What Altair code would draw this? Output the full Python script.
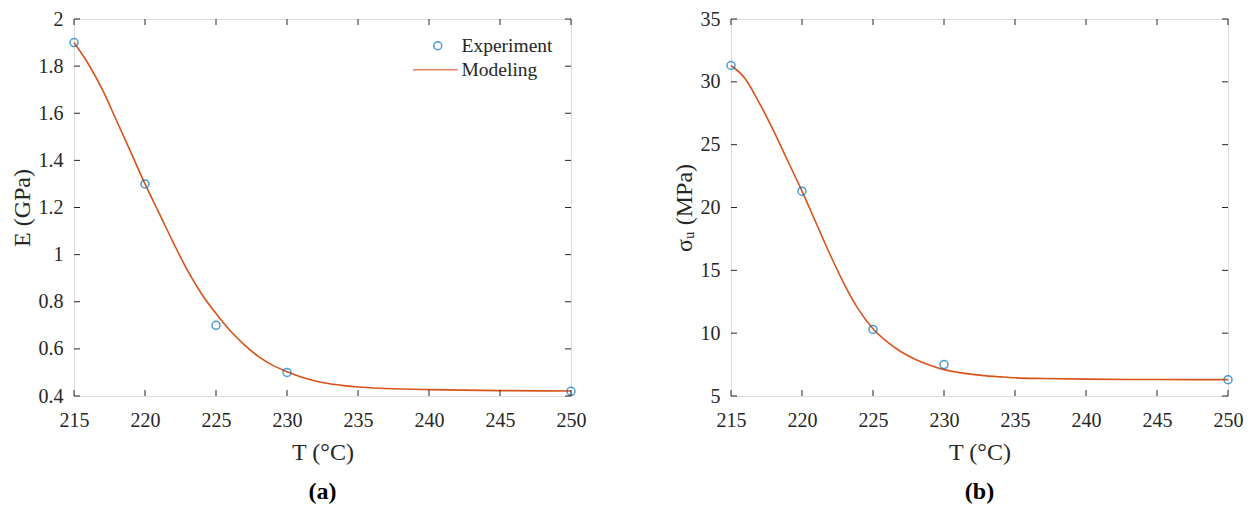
import altair as alt
import pandas as pd

# Experimental points
T_exp = [215, 220, 225, 230, 250]
E_exp = [1.90, 1.30, 0.70, 0.50, 0.42]
S_exp = [31.3, 21.3, 10.3, 7.5, 6.3]

# Modeling curves
T_mod = [215, 216, 217, 218, 219, 220, 221, 222, 223, 224, 225, 226, 227, 228,
         229, 230, 231, 232, 233, 234, 235, 237, 240, 245, 250]
E_mod = [1.90, 1.81, 1.70, 1.568, 1.435, 1.30, 1.175, 1.05, 0.932, 0.832, 0.750,
         0.677, 0.617, 0.567, 0.53, 0.503, 0.481, 0.464, 0.452, 0.444, 0.438,
         0.432, 0.427, 0.423, 0.421]
S_mod = [31.3, 30.25, 28.3, 26.1, 23.7, 21.3, 18.75, 16.2, 13.85, 11.85, 10.35,
         9.3, 8.5, 7.9, 7.45, 7.1, 6.88, 6.72, 6.6, 6.52, 6.45, 6.39, 6.34,
         6.31, 6.3]

x_ticks = [215, 220, 225, 230, 235, 240, 245, 250]
E_ticks = [0.4, 0.6, 0.8, 1.0, 1.2, 1.4, 1.6, 1.8, 2.0]
S_ticks = [5, 10, 15, 20, 25, 30, 35]

series = ["Experiment", "Modeling"]
colors = ["#0072BD", "#D95319"]

W, H = 497, 377
FONT = "Liberation Serif"
TXT = "#262626"
BOX = "#6e6e6e"
TL = 6


def panel(y_exp, y_mod, ydom, yticks, ytitle, caption, show_legend):
    xs = alt.Scale(domain=[215, 250], nice=False, zero=False)
    ys = alt.Scale(domain=ydom, nice=False, zero=False)
    exp_df = pd.DataFrame({"T": T_exp, "v": y_exp, "s": "Experiment"})
    mod_df = pd.DataFrame({"T": T_mod, "v": y_mod, "s": "Modeling"})

    if show_legend:
        color = alt.Color("s:N", scale=alt.Scale(domain=series, range=colors),
                          legend=alt.Legend(title=None, orient="none", legendX=354, legendY=17,
                                            labelFont=FONT, labelFontSize=19.5, labelColor=TXT,
                                            symbolSize=64, symbolStrokeWidth=1.5,
                                            labelOffset=14, rowPadding=3, padding=0))
        shape = alt.Shape("s:N", scale=alt.Scale(domain=series, range=["circle", "M-6.2,0L5,0"]),
                          legend=alt.Legend(title=None))
    else:
        color = alt.Color("s:N", scale=alt.Scale(domain=series, range=colors), legend=None)
        shape = alt.Shape("s:N", scale=alt.Scale(domain=series, range=["circle", "M-6.2,0L5,0"]),
                          legend=None)

    xaxis = alt.Axis(values=x_ticks, title="T (°C)", format="d", grid=False, domain=False,
                     ticks=False, labelPadding=14, titlePadding=10, labelFlush=False,
                     labelFont=FONT, labelFontSize=20, labelColor=TXT,
                     titleFont=FONT, titleFontSize=24, titleFontWeight="normal", titleColor=TXT)
    yaxis = alt.Axis(values=yticks, title=ytitle, format="~g", grid=False, domain=False,
                     ticks=False, labelPadding=11, titlePadding=3.5, labelFlush=False,
                     labelFont=FONT, labelFontSize=20, labelColor=TXT,
                     titleFont=FONT, titleFontSize=24, titleFontWeight="normal", titleColor=TXT)

    X = alt.X("T:Q", scale=xs, axis=xaxis)
    Y = alt.Y("v:Q", scale=ys, axis=yaxis)

    line = alt.Chart(mod_df).mark_line(strokeWidth=1.6, interpolate="monotone").encode(
        x=X, y=Y, color=color,
    )
    pts = alt.Chart(exp_df).mark_point(filled=False, size=64, strokeWidth=1.5).encode(
        x=X, y=Y, color=color, shape=shape,
    )
    xt = pd.DataFrame({"T": x_ticks})
    yt = pd.DataFrame({"v": yticks})
    tb = alt.Chart(xt).mark_rule(color=TXT, strokeWidth=1).encode(
        x=X, y=alt.value(H), y2=alt.value(H - TL))
    tt = alt.Chart(xt).mark_rule(color=TXT, strokeWidth=1).encode(
        x=X, y=alt.value(0), y2=alt.value(TL))
    tl = alt.Chart(yt).mark_rule(color=TXT, strokeWidth=1).encode(
        y=Y, x=alt.value(0), x2=alt.value(TL))
    tr = alt.Chart(yt).mark_rule(color=TXT, strokeWidth=1).encode(
        y=Y, x=alt.value(W), x2=alt.value(W - TL))

    return alt.layer(line, pts, tb, tt, tl, tr).properties(
        width=W, height=H,
        title=alt.TitleParams(caption, orient="bottom", font=FONT, fontSize=24,
                              fontWeight="bold", color="#000000", offset=16),
    )


pa = panel(E_exp, E_mod, [0.4, 2.0], E_ticks, "E (GPa)", "(a)", True)
pb = panel(S_exp, S_mod, [5, 35], S_ticks, "σᵤ (MPa)", "(b)", False)

chart = alt.hconcat(pa, pb, spacing=85).properties(
    padding={"left": 2, "top": 0, "right": 0, "bottom": 0}
).configure_view(stroke=BOX, strokeWidth=1).configure(background="white")

chart.save("out.html", embed_options={"renderer": "svg", "actions": False})
